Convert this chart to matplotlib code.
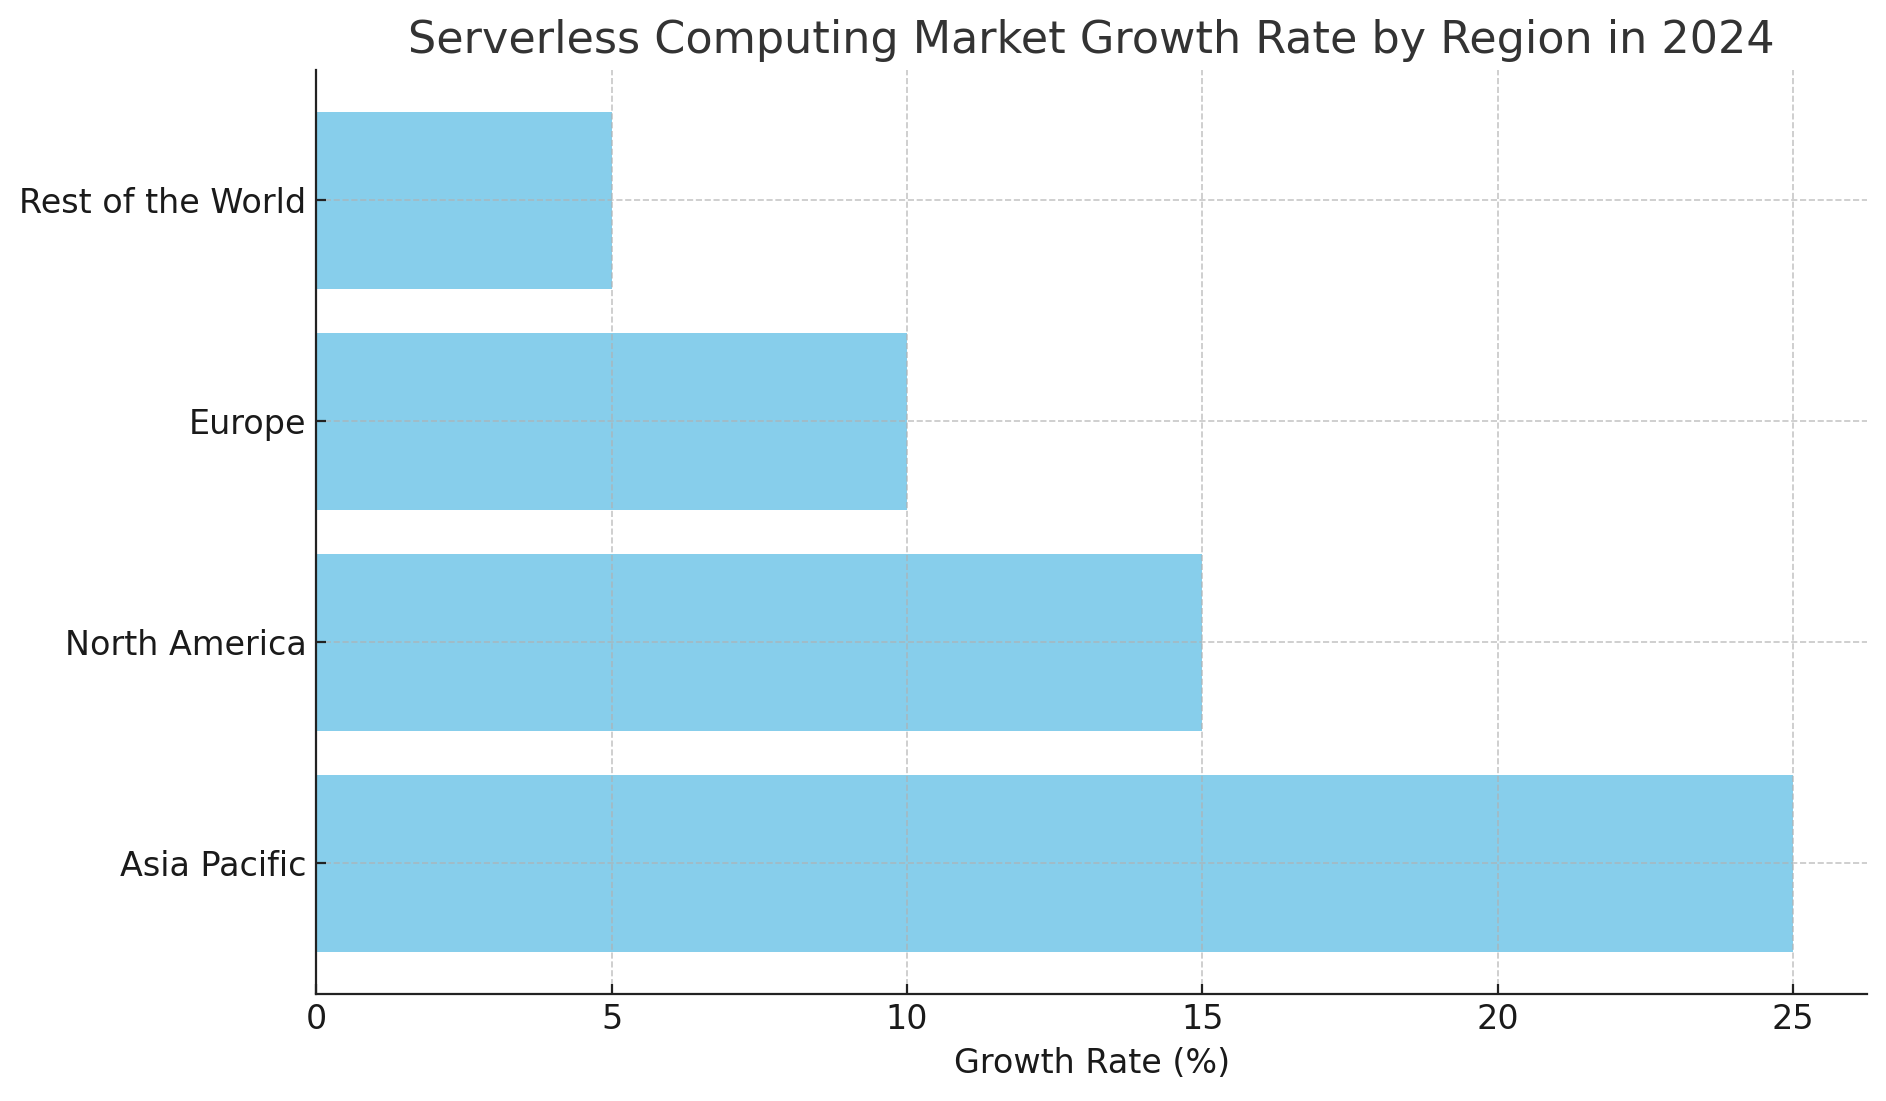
import matplotlib
matplotlib.use("Agg")
import matplotlib.pyplot as plt

regions = ["Asia Pacific", "North America", "Europe", "Rest of the World"]
growth_rate = [25, 15, 10, 5]

fig = plt.figure(figsize=(9.43, 5.505), dpi=200)
ax = fig.add_axes([0.1676, 0.0976, 0.8224, 0.8388])

ax.barh(regions, growth_rate, color="skyblue")
ax.grid(True, linestyle="--", color="#b0b0b0", alpha=0.7, linewidth=0.6)
ax.spines["top"].set_visible(False)
ax.spines["right"].set_visible(False)
for side in ("left", "bottom"):
    ax.spines[side].set_color("#222222")
ax.tick_params(direction="in", labelsize=12, colors="#222222", labelcolor="#1a1a1a")
ax.set_xlabel("Growth Rate (%)", fontsize=12, color="#1a1a1a")
ax.set_title("Serverless Computing Market Growth Rate by Region in 2024",
             fontsize=16, color="#333333")

fig.savefig("out.png", dpi=200)
